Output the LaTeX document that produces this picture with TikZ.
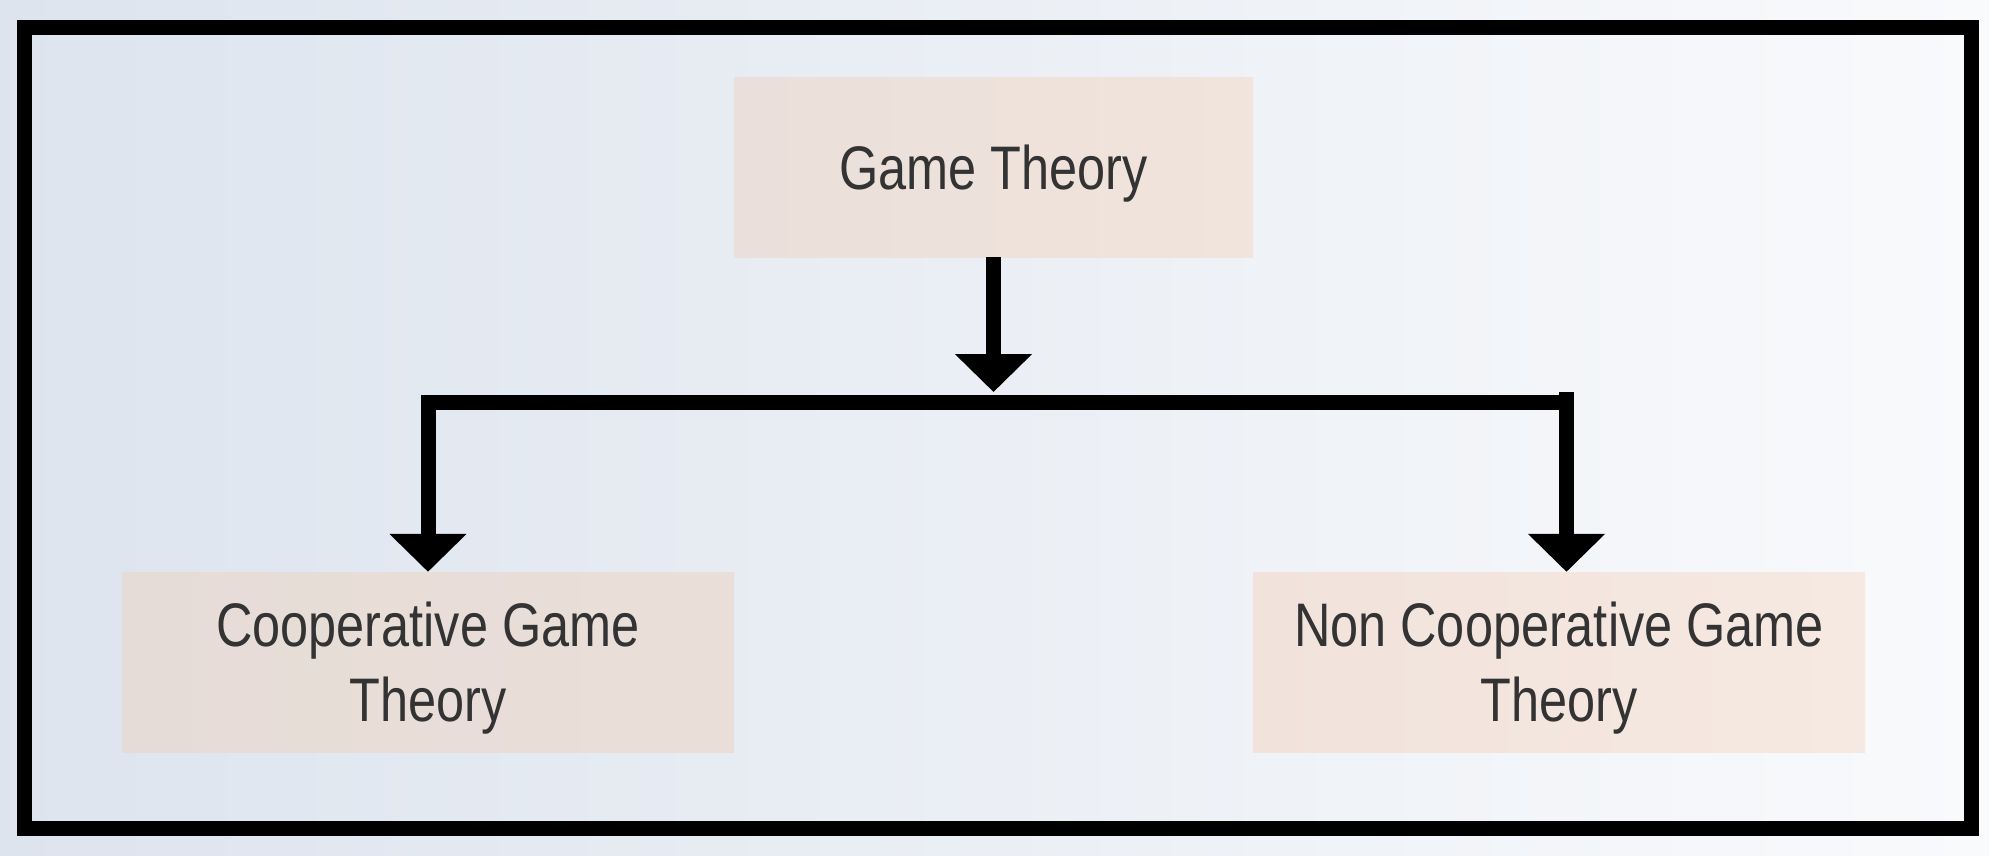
\documentclass[tikz,border=0pt]{standalone}
\usepackage{fontspec}
\setmainfont{Liberation Sans}[FakeStretch=0.82]
\usetikzlibrary{arrows.meta}
\definecolor{bgL}{RGB}{221,228,238}
\definecolor{bgR}{RGB}{249,250,252}
\definecolor{txt}{RGB}{51,51,51}
\tikzset{
  box/.style={rectangle, inner sep=0pt, minimum height=180pt, text=txt, align=center,
    text depth=0pt, font=\fontsize{61.5}{75}\selectfont},
  conn/.style={line width=15pt, line join=miter, draw=black},
  arr/.style={conn, -{Triangle[width=75pt,length=38pt]}},
}
\begin{document}
\begin{tikzpicture}[x=1pt,y=-1pt]
\useasboundingbox (0,0) rectangle (1989,855);
\shade[left color=bgL, right color=bgR] (0,0) rectangle (1989,855);
\draw[line width=15pt] (24.5,27.5) rectangle (1971.5,828.5);
\node[box, minimum width=519pt, left color={rgb,255:red,234;green,223;blue,218}, right color={rgb,255:red,241;green,228;blue,220}] (top) at (993.5,167) {Game Theory};
\node[box, minimum width=612pt, left color={rgb,255:red,230;green,220;blue,215}, right color={rgb,255:red,234;green,222;blue,216}] (left) at (428,662) {Cooperative Game\\Theory};
\node[box, minimum width=612pt, left color={rgb,255:red,241;green,227;blue,220}, right color={rgb,255:red,246;green,233;blue,225}] (right) at (1559,662) {Non Cooperative Game\\Theory};
\coordinate (tip) at (993.5,392);
\coordinate (hr) at (1566.5,402.5);
\coordinate (rtop) at (1566.5,392);
\draw[arr] (top.south) -- (tip);
\draw[arr] (hr) -| (left.north);
\draw[arr] (rtop) -- (rtop |- right.north);
\end{tikzpicture}
\end{document}
